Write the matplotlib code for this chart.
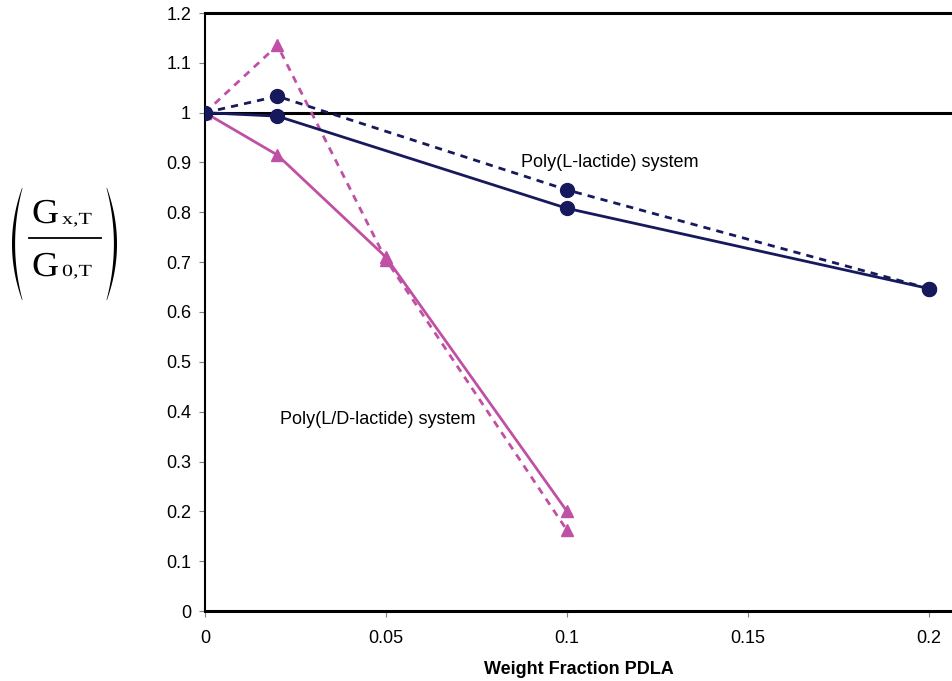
import matplotlib
matplotlib.use("Agg")
import matplotlib.pyplot as plt
import numpy as np
from matplotlib.patches import Polygon, PathPatch
from matplotlib.lines import Line2D
from matplotlib.textpath import TextPath
from matplotlib.font_manager import FontProperties
from matplotlib.transforms import Affine2D

plt.rcParams['font.family'] = ['Liberation Sans', 'DejaVu Sans']

x_pll = [0, 0.02, 0.1, 0.2]
pll_solid = [1.0, 0.993, 0.808, 0.647]
pll_dashed = [1.0, 1.033, 0.845, 0.647]

x_pld = [0, 0.02, 0.05, 0.1]
pld_solid = [1.0, 0.915, 0.71, 0.20]
pld_dashed = [1.0, 1.135, 0.705, 0.162]

xticks = [0, 0.05, 0.1, 0.15, 0.2]
xticklabels = ['0', '0.05', '0.1', '0.15', '0.2']
yticks = [0, 0.1, 0.2, 0.3, 0.4, 0.5, 0.6, 0.7, 0.8, 0.9, 1, 1.1, 1.2]
yticklabels = ['0', '0.1', '0.2', '0.3', '0.4', '0.5', '0.6', '0.7', '0.8', '0.9', '1', '1.1', '1.2']

navy = '#161a5c'
mag = '#c050a4'

W, H = 952, 681
fig = plt.figure(figsize=(W/100, H/100), dpi=100)
ax = fig.add_axes([205/W, 70/H, 1 - 205/W, (611-13)/H])

ax.axhline(1.0, color='black', lw=2.2, zorder=1)

dash = (0, (2.6, 2.2))
ax.plot(x_pld, pld_dashed, color=mag, lw=2, ls=dash, marker='^', ms=9, zorder=3)
ax.plot(x_pld, pld_solid, color=mag, lw=2, ls='-', marker='^', ms=9, zorder=3)
ax.plot(x_pll, pll_dashed, color=navy, lw=2, ls=dash, marker='o', ms=10, zorder=4)
ax.plot(x_pll, pll_solid, color=navy, lw=2, ls='-', marker='o', ms=10, zorder=4)

ax.set_xlim(0, (952-205)/181*0.05)
ax.set_ylim(0, 1.2)
ax.set_xticks(xticks)
ax.set_xticklabels(xticklabels, fontsize=13)
ax.set_yticks(yticks)
ax.set_yticklabels(yticklabels, fontsize=13)
ax.tick_params(axis='both', direction='out', length=4, width=0.8, color='gray')
ax.tick_params(axis='x', pad=10)
ax.tick_params(axis='y', pad=6)

for s in ['left', 'bottom', 'top']:
    ax.spines[s].set_linewidth(2.2)
    ax.spines[s].set_color('black')
ax.spines['left'].set_linewidth(1.5)
ax.spines['right'].set_visible(False)

ax.set_xlabel('Weight Fraction PDLA', fontsize=13, fontweight='bold', labelpad=10)

ax.text(0.1119, 0.899, 'Poly(L-lactide) system', fontsize=13, ha='center', va='center')
ax.text(0.0478, 0.385, 'Poly(L/D-lactide) system', fontsize=13, ha='center', va='center')

# ---- y-axis label: (G_x,T / G_0,T), drawn in pixel positions ----
def fx(px):
    return px / W

def fy(py):
    return 1 - py / H

serif_prop = FontProperties(family='Liberation Serif')

def stretched_text(s, x_px, base_px, em_x, em_y):
    path = TextPath((0, 0), s, size=1, prop=serif_prop)
    tr = Affine2D().scale(em_x / W, em_y / H).translate(fx(x_px), fy(base_px)) + fig.transFigure
    fig.add_artist(PathPatch(path, facecolor='black', edgecolor='none', transform=tr))

stretched_text('G', 32, 223, 37.5, 35)
stretched_text('x,T', 62, 224, 22, 17)
stretched_text('G', 32, 276, 37.5, 35)
stretched_text('0,T', 62, 276, 22, 17)
fig.add_artist(Line2D([fx(29), fx(101)], [fy(238.5), fy(238.5)], color='black', lw=1.3,
                      transform=fig.transFigure))

t = np.linspace(-1, 1, 60)
py = 244 + 56 * t
thick = 0.5 + 2.6 * (1 - t**2)
xo = 12 + 10 * t**2
xi = xo + thick
pts = [(fx(a), fy(b)) for a, b in zip(xo, py)] + [(fx(a), fy(b)) for a, b in zip(xi[::-1], py[::-1])]
fig.add_artist(Polygon(pts, closed=True, facecolor='black', edgecolor='none', transform=fig.transFigure))
xo = 117 - 10 * t**2
xi = xo - thick
pts = [(fx(a), fy(b)) for a, b in zip(xo, py)] + [(fx(a), fy(b)) for a, b in zip(xi[::-1], py[::-1])]
fig.add_artist(Polygon(pts, closed=True, facecolor='black', edgecolor='none', transform=fig.transFigure))

fig.savefig('out.png', dpi=100)
